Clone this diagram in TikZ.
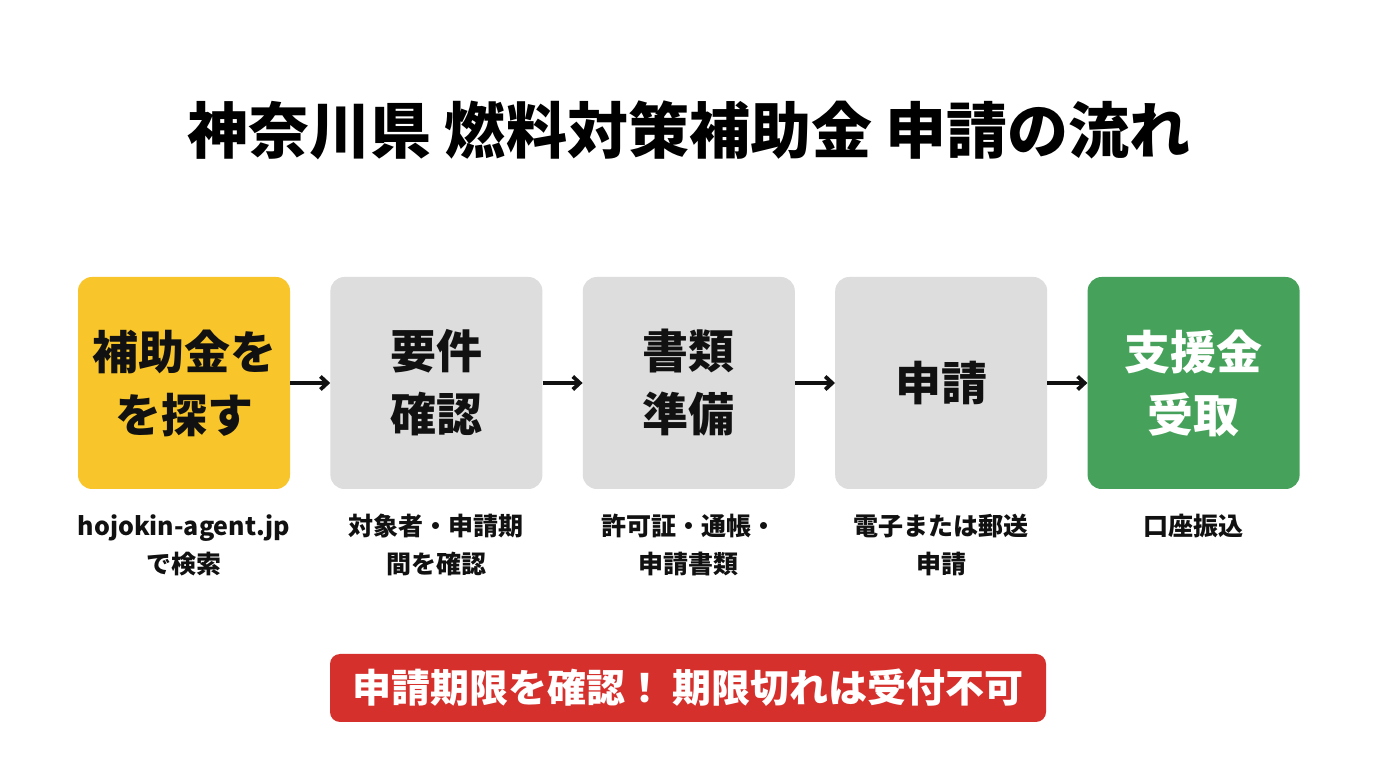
\documentclass[tikz,border=0pt]{standalone}
\usepackage{fontspec}
\setmainfont{Noto Sans CJK JP}
\usepackage{xcolor}
\usetikzlibrary{arrows.meta, positioning}

\definecolor{findyellow}{HTML}{F8C62A}
\definecolor{stepgray}{HTML}{DDDDDD}
\definecolor{getgreen}{HTML}{46A25A}
\definecolor{warnred}{HTML}{D6302D}
\definecolor{inkblack}{HTML}{111111}

\begin{document}
\begin{tikzpicture}[
    x=1pt, y=1pt,
    node distance=40pt and 40pt,
    stepbox/.style={rectangle, rounded corners=14pt, minimum width=212pt, minimum height=212pt, inner sep=0pt, align=center, font=\fontsize{46}{63}\selectfont\bfseries, text=inkblack},
    note/.style={inner sep=0pt, align=center, font=\fontsize{25}{38}\selectfont\bfseries, text=inkblack},
    arrow/.style={-{Straight Barb[length=7pt, width=13pt]}, line width=3.8pt, draw=inkblack},
]
\useasboundingbox[fill=white] (0,0) rectangle (1376,768);

% Title
\node[font=\fontsize{61}{70}\selectfont\bfseries, text=black] (title) at (689,638) {神奈川県 燃料対策補助金 申請の流れ};

% Steps
\node[stepbox, fill=findyellow] (find) at (184,385) {補助金を\\を探す};
\node[stepbox, fill=stepgray, right=of find] (check) {要件\\確認};
\node[stepbox, fill=stepgray, right=of check] (docs) {書類\\準備};
\node[stepbox, fill=stepgray, right=of docs] (apply) {申請};
\node[stepbox, fill=getgreen, text=white, right=of apply] (receive) {支援金\\受取};

% Notes
\node[note, below=25pt of find] (findnote) {hojokin-agent.jp\\で検索};
\node[note, below=25pt of check] (checknote) {対象者・申請期\\間を確認};
\node[note, below=25pt of docs] (docsnote) {許可証・通帳・\\申請書類};
\node[note, below=25pt of apply] (applynote) {電子または郵送\\申請};
\node[note, below=25pt of receive] (receivenote) {口座振込};

% Arrows
\draw[arrow] (find) -- (check);
\draw[arrow] (check) -- (docs);
\draw[arrow] (docs) -- (apply);
\draw[arrow] (apply) -- (receive);

% Warning
\node[rectangle, rounded corners=10pt, fill=warnred, text=white, minimum width=716pt, minimum height=68pt, font=\fontsize{39}{40}\selectfont\bfseries] (warn) at (688,80) {申請期限を確認！ 期限切れは受付不可};

\end{tikzpicture}
\end{document}
